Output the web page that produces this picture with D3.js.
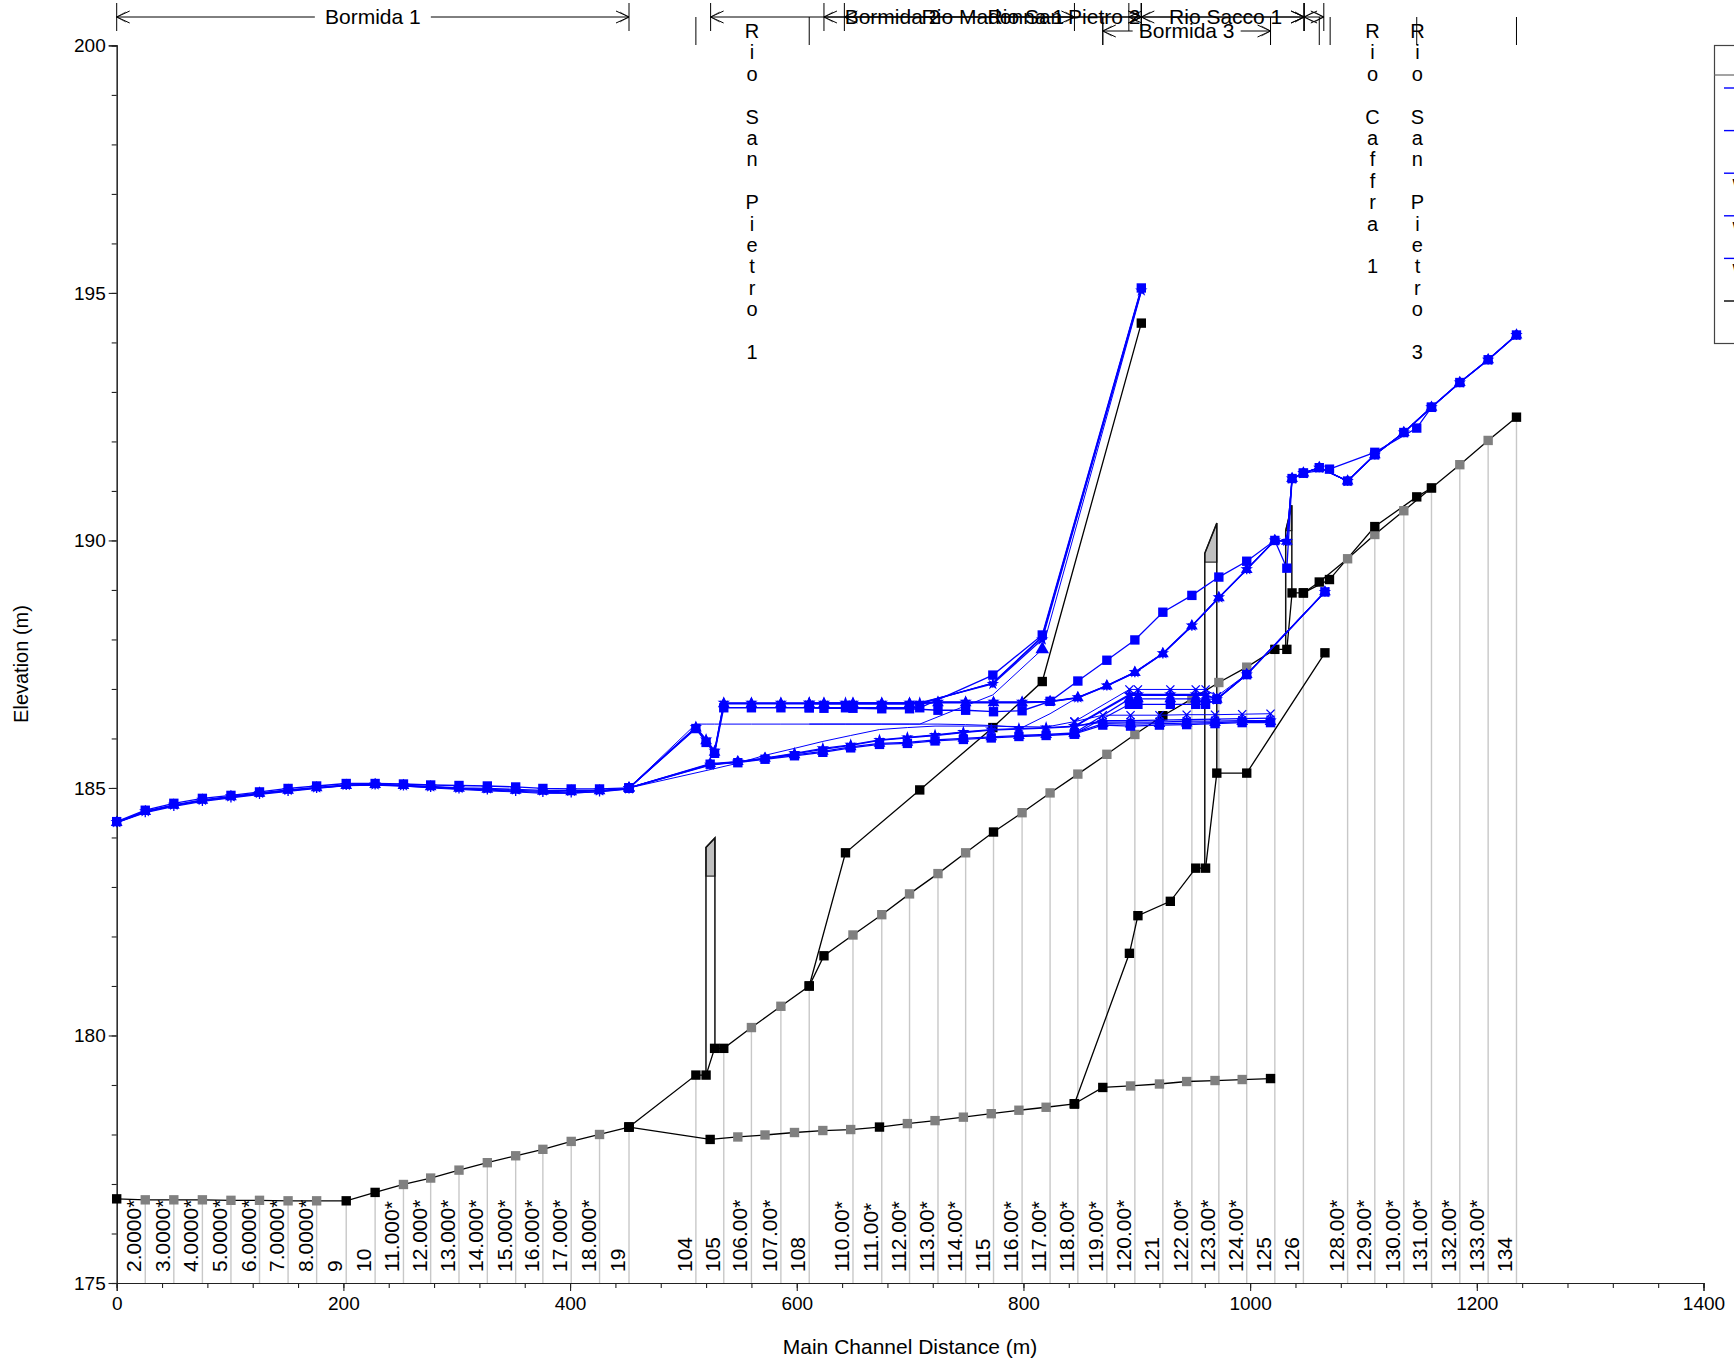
<!DOCTYPE html>
<html><head><meta charset="utf-8">
<script src="https://cdn.jsdelivr.net/npm/d3@7"></script>
<style>
html,body{margin:0;padding:0;background:#fff;overflow:hidden}
svg{display:block}
text{font-family:"Liberation Sans",Arial,sans-serif;fill:#000}
</style></head><body><div id="c"></div>
<script>
// ---------- DATA ----------
const bormida1X=[0,25.2,50.4,75.6,100.8,126,151.2,176.4,202.5,228,253,277,302,327,352,376,401,426,452];
const bormida1Ground=[176.70,176.68,176.68,176.68,176.67,176.67,176.66,176.66,176.66,176.83,176.99,177.12,177.28,177.43,177.57,177.70,177.86,178.0,178.15];
const bormida1Interp=[0,1,1,1,1,1,1,1,0,0,1,1,1,1,1,1,1,1,0];
const bormida1WS=[
 [184.30,184.50,184.63,184.73,184.80,184.87,184.93,184.99,185.05,185.06,185.04,185.01,184.98,184.96,184.93,184.91,184.90,184.92,184.98],
 [184.30,184.51,184.64,184.74,184.81,184.88,184.94,185.00,185.05,185.06,185.04,185.00,184.97,184.94,184.92,184.89,184.89,184.93,184.98],
 [184.30,184.52,184.65,184.75,184.82,184.89,184.95,185.00,185.05,185.07,185.05,185.02,184.99,184.97,184.95,184.93,184.92,184.94,184.99],
 [184.31,184.53,184.66,184.76,184.83,184.90,184.96,185.01,185.06,185.07,185.05,185.03,185.00,184.99,184.97,184.95,184.95,184.95,184.99],
 [184.32,184.55,184.69,184.79,184.85,184.92,184.99,185.04,185.09,185.09,185.08,185.06,185.05,185.04,185.02,184.99,184.98,184.98,185.00]];

const pietroX=[452,511,520,527.5,535.6,560,586,611,624,649.6,675,699.5,724.6,749,773.6,798.8,823.5,848,873.6,898.3,923,948.6,972.4,997,1021.8,1032.4,1037,1047,1061,1086,1110,1135.6,1160,1185,1210,1235];
const pietroGround=[178.15,179.2,179.2,179.74,179.74,180.16,180.59,181.0,181.61,182.03,182.44,182.86,183.27,183.69,184.11,184.5,184.9,185.28,185.68,186.08,186.46,186.8,187.13,187.44,187.8,187.8,188.94,188.94,189.16,189.63,190.12,190.6,191.06,191.53,192.02,192.49];
const pietroInterp=[0,0,0,0,0,1,1,0,0,1,1,1,1,1,0,1,1,1,1,1,0,1,1,1,0,0,0,0,0,1,1,1,1,1,1,0];
const pietroWS=[
 [185.0,186.22,185.96,185.73,186.71,186.71,186.71,186.71,186.71,186.71,186.71,186.71,186.73,186.73,186.73,186.73,186.75,186.82,187.06,187.33,187.71,188.27,188.84,189.41,190.0,189.98,191.25,191.36,191.47,191.2,191.73,192.18,192.69,193.19,193.65,194.15],
 [185.0,186.29,186.29,186.29,186.29,186.29,186.29,186.29,186.29,186.29,186.29,186.29,186.29,186.28,186.26,186.22,186.5,186.83,187.07,187.34,187.72,188.28,188.85,189.42,190.0,189.99,191.25,191.36,191.47,191.2,191.73,192.18,192.69,193.19,193.65,194.15],
 [185.0,186.21,185.95,185.72,186.70,186.70,186.70,186.70,186.70,186.70,186.70,186.70,186.72,186.72,186.72,186.72,186.74,186.82,187.06,187.33,187.71,188.27,188.84,189.41,190.0,189.98,191.25,191.36,191.47,191.2,191.73,192.18,192.69,193.19,193.65,194.15],
 [185.0,186.23,185.98,185.75,186.72,186.72,186.72,186.72,186.72,186.72,186.72,186.72,186.74,186.74,186.74,186.74,186.75,186.83,187.07,187.34,187.72,188.28,188.85,189.42,190.0,189.99,191.25,191.36,191.47,191.2,191.73,192.18,192.69,193.19,193.65,194.15],
 [185.0,186.2,185.92,185.7,186.62,186.62,186.62,186.62,186.61,186.61,186.60,186.6,186.57,186.57,186.54,186.56,186.75,187.16,187.58,187.99,188.55,188.89,189.26,189.58,190.0,189.44,191.25,191.36,191.47,191.2,191.73,192.18,192.69,193.19,193.65,194.15]];

const madonnaX=[611,643,708.5,773,816.6,904];
const madonnaGround=[181.0,183.69,184.96,186.22,187.15,194.39];
const madonnaWS=[
 [186.71,186.71,186.71,187.12,188.06,195.08],
 [186.29,186.29,186.29,186.88,187.8,195.02],
 [186.70,186.70,186.70,187.12,188.04,195.07],
 [186.72,186.72,186.72,187.1,188.0,195.05],
 [186.62,186.62,186.62,187.28,188.09,195.1]];
const triangleMark=[816.6,187.8];

const bormida2X=[452,523.6,548,572,598,623,647.6,673,697.6,722,747,771.6,796,820,845];
const bormida2Ground=[178.15,177.9,177.95,177.99,178.04,178.08,178.1,178.15,178.22,178.28,178.35,178.42,178.49,178.55,178.62];
const bormida2Interp=[0,0,1,1,1,1,1,0,1,1,1,1,1,1,0];
const bormida2WS=[
 [185.0,185.46,185.52,185.59,185.69,185.78,185.86,185.96,186.01,186.06,186.12,186.17,186.19,186.21,186.24],
 [185.0,185.37,185.5,185.66,185.8,185.94,186.06,186.18,186.22,186.25,186.25,186.25,186.24,186.23,186.34],
 [185.0,185.49,185.53,185.6,185.67,185.74,185.83,185.9,185.92,185.97,186.0,186.03,186.06,186.08,186.11],
 [185.0,185.47,185.53,185.6,185.7,185.8,185.87,185.97,186.02,186.07,186.13,186.18,186.2,186.22,186.25],
 [185.0,185.48,185.51,185.58,185.65,185.72,185.81,185.88,185.9,185.95,185.98,186.01,186.04,186.06,186.09]];

const bormida3X=[845,870,894.5,920,944,969,993,1018];
const bormida3Ground=[178.62,178.95,178.98,179.02,179.07,179.09,179.11,179.13];
const bormida3Interp=[0,0,1,1,1,1,1,0];
const bormida3WS=[
 [186.24,186.36,186.36,186.37,186.38,186.39,186.40,186.41],
 [186.34,186.47,186.47,186.47,186.48,186.48,186.49,186.50],
 [186.11,186.30,186.29,186.30,186.31,186.32,186.34,186.34],
 [186.25,186.33,186.33,186.33,186.35,186.35,186.36,186.36],
 [186.09,186.27,186.25,186.27,186.28,186.30,186.32,186.32]];

const saccoX=[845,893.5,901,929.6,952,960.7,970.6,997,1066];
const saccoGround=[178.62,181.66,182.42,182.71,183.38,183.38,185.3,185.3,187.73];
const saccoWS=[
 [186.24,186.87,186.87,186.87,186.87,186.87,186.79,187.29,188.96],
 [186.34,186.99,186.99,186.99,186.99,186.99,186.85,187.30,188.97],
 [186.11,186.80,186.80,186.80,186.80,186.80,186.79,187.29,188.96],
 [186.25,186.89,186.89,186.89,186.89,186.89,186.79,187.29,188.96],
 [186.09,186.69,186.69,186.69,186.69,186.69,186.79,187.29,188.96]];

const caffraX=[1047,1070,1110,1147,1160];
const caffraGround=[188.94,189.21,190.28,190.88,191.06];
const caffraWS=[191.36,191.44,191.78,192.27,192.69];

const sectionX=[25.2,50.4,75.6,100.8,126,151.2,176.4,202.5,228,253,277,302,327,352,376,401,426,452,511,535.6,560,586,611,649.6,675,699.5,724.6,749,773.6,798.8,823.5,848,873.6,898.3,923,948.6,972.4,997,1021.8,1047,1086,1110,1135.6,1160,1185,1210,1235];
const sectionLabel=["2.0000*","3.0000*","4.0000*","5.0000*","6.0000*","7.0000*","8.0000*","9","10","11.000*","12.000*","13.000*","14.000*","15.000*","16.000*","17.000*","18.000*","19","104","105","106.00*","107.00*","108","110.00*","111.00*","112.00*","113.00*","114.00*","115","116.00*","117.00*","118.00*","119.00*","120.00*","121","122.00*","123.00*","124.00*","125","126","128.00*","129.00*","130.00*","131.00*","132.00*","133.00*","134"];

const bridgeDeck=[
 [[519.9,179.2],[519.9,183.8],[527.8,183.99],[527.8,179.74]],
 [[960,183.38],[960,189.74],[970.6,190.35],[970.6,185.3]],
 [[1031.4,187.8],[1031.4,190.2],[1036.8,190.71],[1036.8,188.94]]];
const bridgeSoffit=[183.22,189.56,190.2];

const reachNames=["Bormida 1","Bormida 2","Rio Madonna 1","Rio San Pietro 2","Rio Sacco 1","","","Bormida 3"];
const reachStart=[0,524,642,624,904,1047.6,893,870];
const reachEnd=[452,845,904,1047.6,1047.6,1065,904,1018];
const reachRow=[0,0,0,0,0,0,0,1];
const reachTextWidth=[104,0,0,0,0,0,0,96];
const verticalNames=["Rio San Pietro 1","Rio Caffra 1","Rio San Pietro 3"];
const verticalCenter=[560.6,1108,1147.6];
const lowerTicks=[511,611,870,1018,1061,1070.6,1147,1235];

const xMajor=d3.range(0,1401,200), xMinor=d3.range(0,1401,40);
const yMajor=d3.range(175,201,5), yMinor=d3.range(175,201,1);
const legendSeries=["WS 1","WS 2","WS 3","WS 4","WS 5","Ground"];

// ---------- DRAW ----------
const W=1734,H=1361;
const x=d3.scaleLinear().domain([0,1400]).range([116.7,1703.5]);
const y=d3.scaleLinear().domain([175,200]).range([1283,45.4]);
const svg=d3.select("#c").append("svg").attr("width",W).attr("height",H);
const FS=21, TICKFS=19, BLUE="#0000ff";

// section drop lines & labels
const groundLookup=new Map();
[[bormida1X,bormida1Ground],[pietroX,pietroGround]].forEach(([a,b])=>a.forEach((v,i)=>groundLookup.set(v,b[i])));
sectionX.forEach((v,i)=>{
  svg.append("line").attr("x1",x(v)).attr("x2",x(v)).attr("y1",y(groundLookup.get(v))).attr("y2",y(175))
    .attr("stroke","#c8c8c8").attr("stroke-width",1.4);
  svg.append("text").attr("transform",`translate(${x(v)-4},1272) rotate(-90)`)
    .attr("font-size",FS).text(sectionLabel[i]);
});

// axes
const gx=svg.append("g").attr("transform",`translate(0,${y(175)})`);
gx.call(d3.axisBottom(x).tickValues(xMinor).tickSize(5).tickFormat(""));
const gx2=svg.append("g").attr("transform",`translate(0,${y(175)})`);
gx2.call(d3.axisBottom(x).tickValues(xMajor).tickSize(8).tickFormat(d3.format("d")));
gx2.selectAll("text").attr("font-size",TICKFS).attr("dy",0).attr("y",27).style("font-family",'"Liberation Sans"');
const gy=svg.append("g").attr("transform",`translate(${x(0)},0)`);
gy.call(d3.axisLeft(y).tickValues(yMinor).tickSize(5).tickFormat(""));
const gy2=svg.append("g").attr("transform",`translate(${x(0)},0)`);
gy2.call(d3.axisLeft(y).tickValues(yMajor).tickSize(8).tickFormat(d3.format("d")));
gy2.selectAll("text").attr("font-size",TICKFS).attr("x",-11).style("font-family",'"Liberation Sans"');
svg.selectAll(".domain,.tick line").attr("stroke","#222").attr("stroke-width",1.1);

svg.append("text").attr("transform","translate(28,664) rotate(-90)").attr("text-anchor","middle").attr("font-size",FS-1).text("Elevation (m)");
svg.append("text").attr("x",910).attr("y",1354).attr("text-anchor","middle").attr("font-size",FS).text("Main Channel Distance (m)");

// ground
const line=d3.line().x(d=>x(d[0])).y(d=>y(d[1]));
const zip=(a,b)=>a.map((v,i)=>[v,b[i]]);
function groundReach(xs,gs){
  svg.append("path").attr("d",line(zip(xs,gs))).attr("fill","none").attr("stroke","#000").attr("stroke-width",1.3);
}
const groundSets=[[bormida1X,bormida1Ground,bormida1Interp],[pietroX,pietroGround,pietroInterp],[madonnaX,madonnaGround,null],[bormida2X,bormida2Ground,bormida2Interp],[bormida3X,bormida3Ground,bormida3Interp],[saccoX,saccoGround,null],[caffraX,caffraGround,null]];
groundSets.forEach(g=>groundReach(g[0],g[1]));

// bridges
bridgeDeck.forEach((b,i)=>{
  const s=bridgeSoffit[i];
  svg.append("path").attr("d",line([[b[1][0],s],b[1],b[2],[b[2][0],s]])+"Z").attr("fill","#c0c0c0").attr("stroke","#333").attr("stroke-width",1.2);
  svg.append("path").attr("d",line(b)).attr("fill","none").attr("stroke","#111").attr("stroke-width",1.5);
});

// ground markers
const sq=d3.symbol().type(d3.symbolSquare).size(88);
groundSets.forEach(([xs,gs,interp])=>{
  xs.forEach((v,i)=>{
    svg.append("path").attr("d",sq()).attr("transform",`translate(${x(v)},${y(gs[i])})`)
      .attr("fill",interp&&interp[i]?"#808080":"#000");
  });
});

// water surfaces
const reaches=[[bormida1X,bormida1WS],[pietroX,pietroWS],[madonnaX,madonnaWS],[bormida2X,bormida2WS],[bormida3X,bormida3WS],[saccoX,saccoWS]];
const symbols=[d3.symbolAsterisk,d3.symbolX,d3.symbolTriangle,d3.symbolStar,d3.symbolSquare];
const sizes=[60,45,60,48,88];
const strokeOnly=[true,true,false,false,false];
[0,1,2,3,4].forEach(p=>{
  reaches.forEach(([xs,ws],ri)=>{
    svg.append("path").attr("d",line(zip(xs,ws[p]))).attr("fill","none").attr("stroke",BLUE).attr("stroke-width",p===1?1:1.3);
    // profile 1 (thin) only shows its markers on Bormida 3 / Rio Sacco
    if(p===1 && ri<4) return;
    const m=d3.symbol().type(symbols[p]).size(sizes[p]);
    xs.forEach((v,i)=>{
      if(p===2 && ri===2) return;
      const el=svg.append("path").attr("d",m()).attr("transform",`translate(${x(v)},${y(ws[p][i])})`);
      if(strokeOnly[p]) el.attr("fill","none").attr("stroke",BLUE).attr("stroke-width",1.3);
      else el.attr("fill",BLUE);
    });
  });
});
svg.append("path").attr("d",line(zip(caffraX,caffraWS))).attr("fill","none").attr("stroke",BLUE).attr("stroke-width",1.3);
caffraX.forEach((v,i)=>svg.append("path").attr("d",sq()).attr("transform",`translate(${x(v)},${y(caffraWS[i])})`).attr("fill",BLUE));
svg.append("path").attr("d",d3.symbol().type(d3.symbolTriangle).size(80)()).attr("transform",`translate(${x(triangleMark[0])},${y(triangleMark[1])})`).attr("fill",BLUE);

// reach annotations
const rowY=[17,31];
const tickSpan=[[3,31],[17,45]];
function head(px,py,dir){
  const l=13,h=6;
  svg.append("path").attr("d",`M${px-dir*l},${py-h}L${px},${py}L${px-dir*l},${py+h}`).attr("fill","none").attr("stroke","#000");
  svg.append("path").attr("d",`M${px-dir*l+dir*4},${py-h+1}L${px},${py}L${px-dir*l+dir*4},${py+h-1}`).attr("fill","none").attr("stroke","#000").attr("stroke-width",.6);
}
reachNames.forEach((n,i)=>{
  const a=x(reachStart[i]),b=x(reachEnd[i]),r=reachRow[i],py=rowY[r],mid=(a+b)/2;
  [a,b].forEach(v=>svg.append("line").attr("x1",v).attr("x2",v).attr("y1",tickSpan[r][0]).attr("y2",tickSpan[r][1]).attr("stroke","#000").attr("stroke-width",1));
  const tw=reachTextWidth[i];
  if(tw){
    svg.append("line").attr("x1",a).attr("x2",mid-tw/2-6).attr("y1",py).attr("y2",py).attr("stroke","#000");
    svg.append("line").attr("x1",mid+tw/2+6).attr("x2",b).attr("y1",py).attr("y2",py).attr("stroke","#000");
  } else {
    svg.append("line").attr("x1",a).attr("x2",b).attr("y1",py).attr("y2",py).attr("stroke","#000");
  }
  head(a,py,-1);head(b,py,1);
  if(n) svg.append("text").attr("x",mid+(n==="Rio Sacco 1"?3:0)).attr("y",py+7).attr("text-anchor","middle").attr("font-size",FS).text(n);
});
lowerTicks.forEach(v=>svg.append("line").attr("x1",x(v)).attr("x2",x(v)).attr("y1",tickSpan[1][0]).attr("y2",tickSpan[1][1]).attr("stroke","#000"));
verticalNames.forEach((n,i)=>{
  [...n].forEach((c,k)=>{
    if(c===" ")return;
    svg.append("text").attr("x",x(verticalCenter[i])).attr("y",38+k*21.4).attr("text-anchor","middle").attr("font-size",FS-1).text(c);
  });
});

// legend (runs off the right edge of the window)
svg.append("rect").attr("x",1714.5).attr("y",45.5).attr("width",40).attr("height",298).attr("fill","#fff").attr("stroke","#444").attr("stroke-width",1.2);
svg.append("line").attr("x1",1714).attr("x2",1740).attr("y1",75).attr("y2",75).attr("stroke","#666").attr("stroke-width",1.2);
legendSeries.forEach((n,i)=>{
  const ly=88+i*42.6;
  svg.append("line").attr("x1",1724).attr("x2",1740).attr("y1",ly).attr("y2",ly).attr("stroke",i<5?BLUE:"#000").attr("stroke-width",1.4);
  if(i>=2&&i<5) svg.append("text").attr("x",1732.5).attr("y",ly+18).attr("font-size",FS-5).text("W");
});
</script></body></html>
